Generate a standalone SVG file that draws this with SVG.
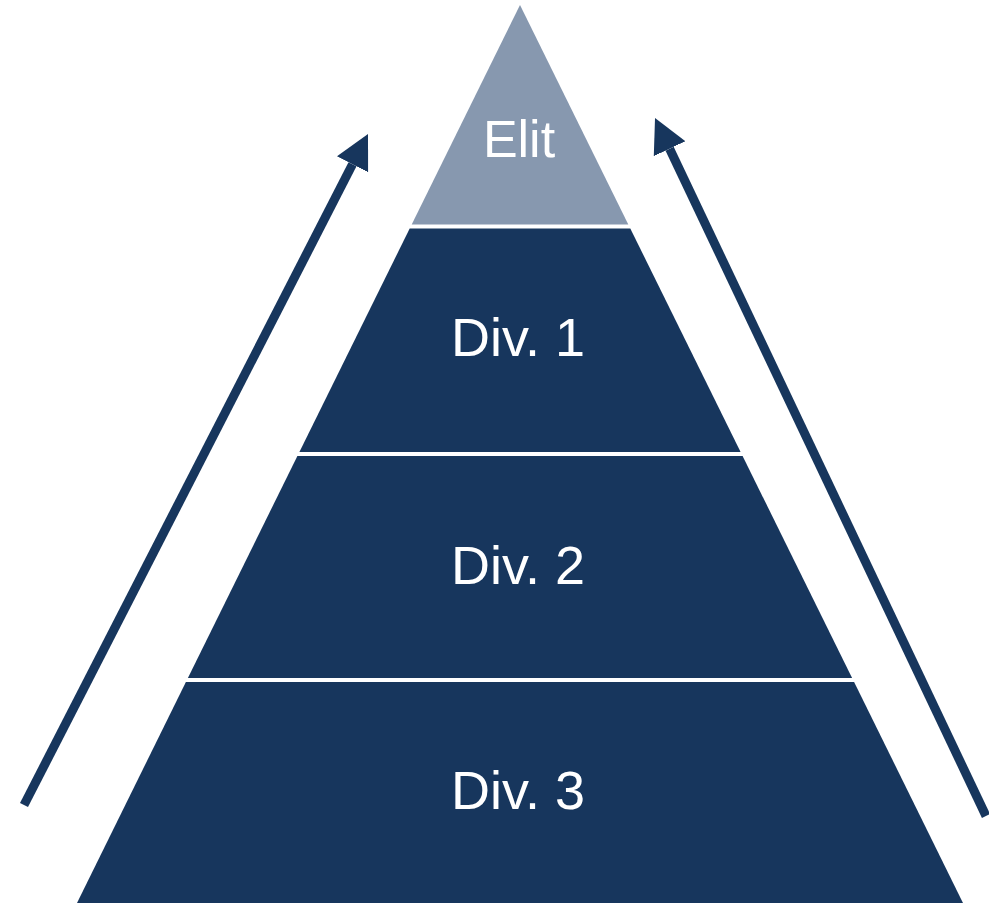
<svg xmlns="http://www.w3.org/2000/svg" width="989" height="903" viewBox="0 0 989 903">
  <style>
    .tier { fill: #17365D; }
    .top { fill: #8798AF; }
    .lbl { fill: #FFFFFF; font-family: "Liberation Sans", Arial, sans-serif; text-anchor: middle; }
    .arrow { stroke: #17365D; stroke-width: 9; fill: none; }
  </style>
  <defs>
    <marker id="head" markerUnits="userSpaceOnUse" markerWidth="36" markerHeight="36" refX="0" refY="17.5" orient="auto">
      <path d="M0,0 L34,17.5 L0,35 Z" fill="#17365D"/>
    </marker>
  </defs>
  <rect width="989" height="903" fill="#FFFFFF"/>
  <g id="elit">
    <polygon class="top" points="520,5 628.3,224.5 411.7,224.5"/>
    <text class="lbl" x="519" y="157" font-size="52">Elit</text>
  </g>
  <g id="div1">
    <polygon class="tier" points="409.7,228.5 630.3,228.5 740.6,452 299.4,452"/>
    <text class="lbl" x="518" y="356" font-size="54">Div. 1</text>
  </g>
  <g id="div2">
    <polygon class="tier" points="297.4,456 742.6,456 852.1,678 187.9,678"/>
    <text class="lbl" x="518" y="584" font-size="54">Div. 2</text>
  </g>
  <g id="div3">
    <polygon class="tier" points="185.9,682 854.1,682 963,903 77,903"/>
    <text class="lbl" x="518" y="809" font-size="54">Div. 3</text>
  </g>
  <g id="connectors">
    <line class="arrow" x1="24" y1="805" x2="352.5" y2="164.3" marker-end="url(#head)"/>
    <line class="arrow" x1="986" y1="816" x2="669.6" y2="148.7" marker-end="url(#head)"/>
  </g>
</svg>
